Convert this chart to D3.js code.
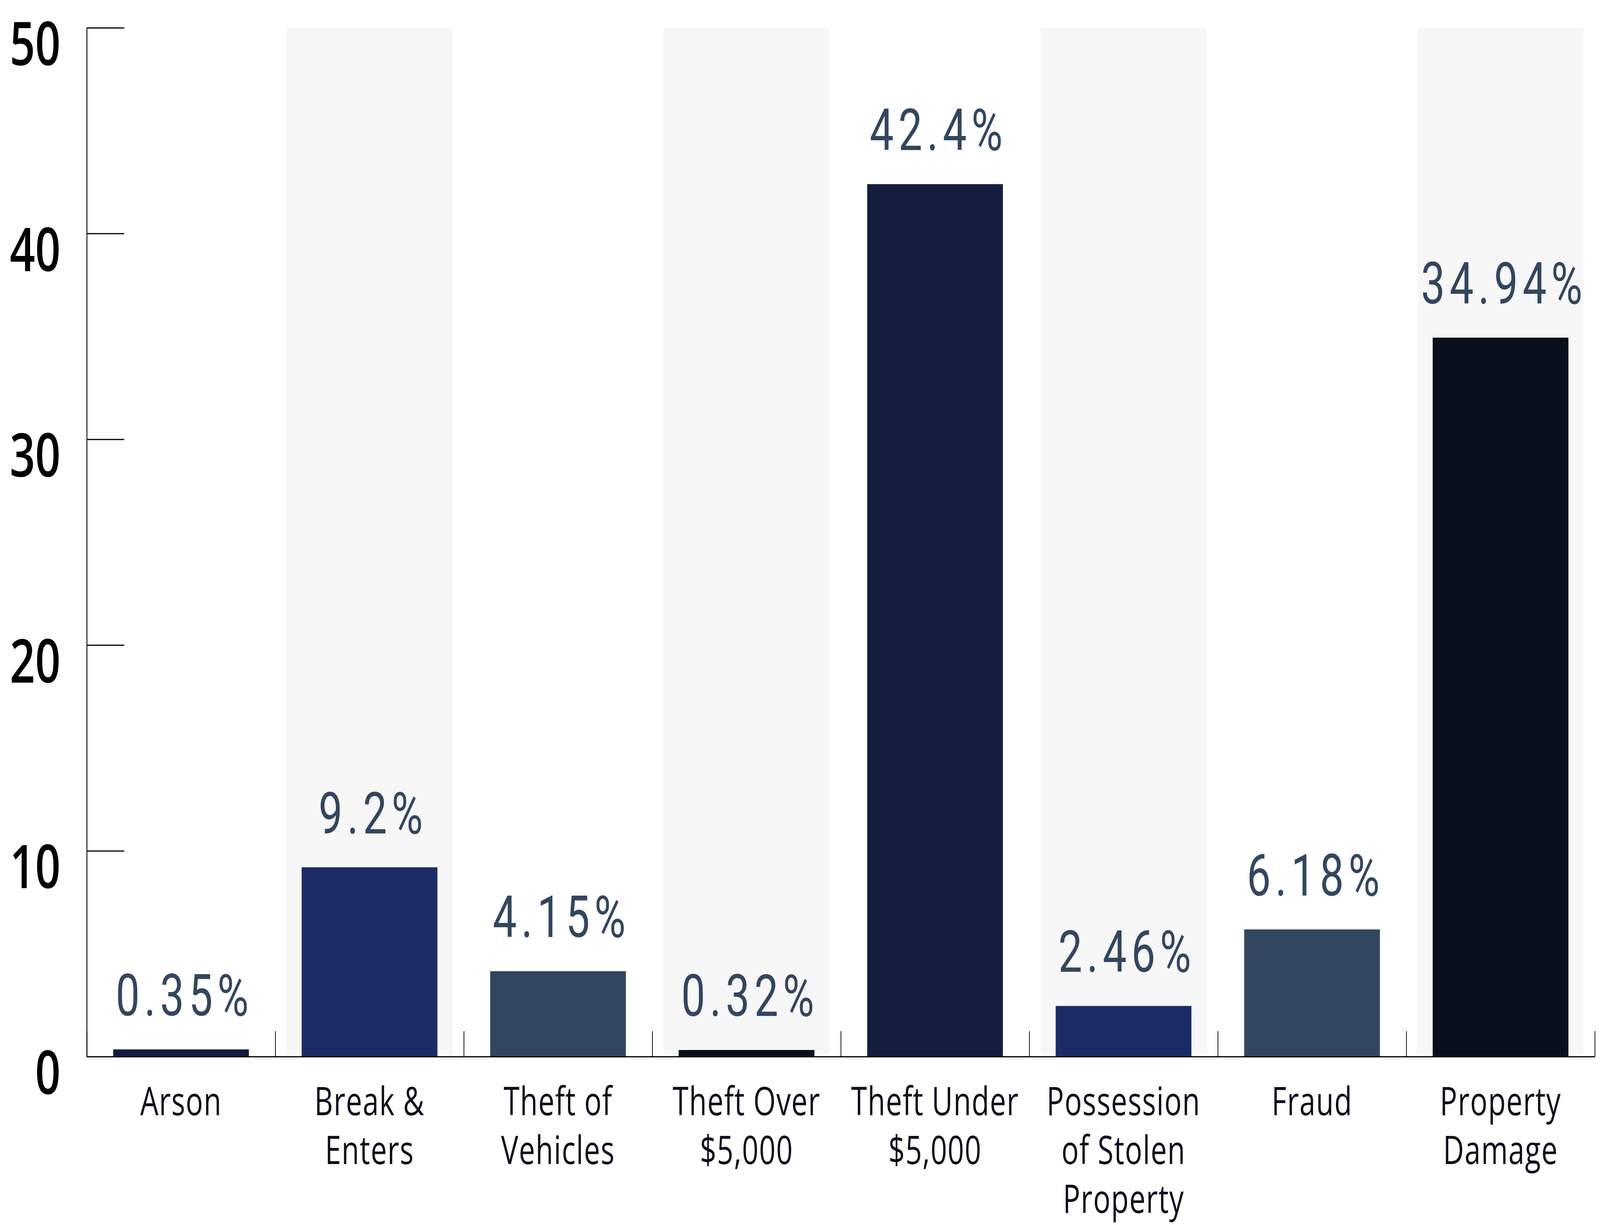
<!DOCTYPE html>
<html>
<head>
<meta charset="utf-8">
<script src="https://cdn.jsdelivr.net/npm/d3@7"></script>
<style>
  html, body { margin: 0; padding: 0; background: #ffffff; overflow: hidden; }
  svg { display: block; }
</style>
</head>
<body>
<svg id="chart" viewBox="0 0 5550 3135" preserveAspectRatio="none"></svg>
<script>
// ---- data ----
const categories = ["Arson", "Break & Enters", "Theft of Vehicles", "Theft Over $5,000",
  "Theft Under $5,000", "Possession of Stolen Property", "Fraud", "Property Damage"];
const categoryLines = [["Arson"], ["Break &", "Enters"], ["Theft of", "Vehicles"], ["Theft Over", "$5,000"],
  ["Theft Under", "$5,000"], ["Possession", "of Stolen", "Property"], ["Fraud"], ["Property", "Damage"]];
const values = [0.35, 9.2, 4.15, 0.32, 42.4, 2.46, 6.18, 34.94];
const valueLabels = ["0.35%", "9.2%", "4.15%", "0.32%", "42.4%", "2.46%", "6.18%", "34.94%"];
const yTicks = [0, 10, 20, 30, 40, 50];
const barColors = ["#141d40", "#1a2b66", "#33465f", "#0a0f1c"];

// ---- layout (in 5550 x 3135 units, stretched to the window) ----
const plotLeft = 301, plotRight = 5532, plotTop = 71, plotBottom = 2704;

const svg = d3.select("#chart")
  .attr("width", window.innerWidth || 5550)
  .attr("height", window.innerHeight || 3135);

const x = d3.scaleBand().domain(categories).range([plotLeft, plotRight]).paddingInner(0).paddingOuter(0);
const xEdges = d3.scaleLinear().domain([0, categories.length]).range([plotLeft, plotRight]);
const y = d3.scaleLinear().domain([0, 50]).range([plotBottom, plotTop]);

const bw = x.bandwidth();
const shadeInset = bw * 0.06;
const barInset = bw * 0.14;

// alternating shaded bands
svg.append("g").selectAll("rect")
  .data(categories.filter((d, i) => i % 2 === 1))
  .join("rect")
  .attr("x", d => x(d) + shadeInset)
  .attr("width", bw - 2 * shadeInset)
  .attr("y", y(50))
  .attr("height", y(0) - y(50) - 7)
  .attr("fill", "#f7f7f7");

// bars
svg.append("g").selectAll("rect")
  .data(values)
  .join("rect")
  .attr("x", (d, i) => x(categories[i]) + barInset)
  .attr("width", bw - 2 * barInset)
  .attr("y", d => y(d))
  .attr("height", d => y(0) - y(d))
  .attr("fill", (d, i) => barColors[i % barColors.length]);

// value labels
svg.append("g").selectAll("text")
  .data(values)
  .join("text")
  .attr("x", (d, i) => x(categories[i]) + bw / 2)
  .attr("dx", 12)
  .attr("y", d => y(d) - 87)
  .attr("text-anchor", "middle")
  .attr("font-family", "Roboto, 'Noto Sans', sans-serif")
  .attr("font-size", 148)
  .attr("letter-spacing", 16)
  .attr("fill", "#33465f")
  .text((d, i) => valueLabels[i]);

// y axis
const yAxis = d3.axisLeft(y)
  .tickValues(yTicks)
  .tickSizeInner(-130)
  .tickSizeOuter(0)
  .tickPadding(91)
  .tickFormat(d3.format("d"));

const gy = svg.append("g")
  .attr("transform", `translate(${plotLeft},0)`)
  .call(yAxis);
gy.select(".domain").attr("stroke", "#000").attr("stroke-width", 3);
gy.selectAll(".tick line").attr("stroke", "#000").attr("stroke-width", 3);
gy.selectAll(".tick text")
  .attr("dy", "0.62em")
  .attr("font-family", "'Open Sans', sans-serif")
  .attr("font-weight", 600)
  .attr("font-size", 154)
  .attr("fill", "#000");

// x axis (ticks at band edges)
const xAxis = d3.axisBottom(xEdges)
  .tickValues(d3.range(categories.length + 1))
  .tickSizeInner(-65)
  .tickSizeOuter(0)
  .tickFormat("");
const gx = svg.append("g")
  .attr("transform", `translate(0,${plotBottom})`)
  .call(xAxis);
gx.select(".domain").attr("stroke", "#000").attr("stroke-width", 3);
gx.selectAll(".tick line").attr("stroke", "#000").attr("stroke-width", 2.5);

// category labels
const cat = svg.append("g").selectAll("text")
  .data(categories)
  .join("text")
  .attr("x", d => x(d) + bw / 2)
  .attr("y", plotBottom + 150)
  .attr("text-anchor", "middle")
  .attr("font-family", "'Open Sans', sans-serif")
  .attr("font-size", 100)
  .attr("letter-spacing", 2)
  .attr("fill", "#0a0f1c");
cat.each(function(d, i) {
  const t = d3.select(this);
  categoryLines[i].forEach((line, j) => {
    t.append("tspan")
      .attr("x", x(d) + bw / 2)
      .attr("dy", j === 0 ? 0 : 125)
      .text(line);
  });
});
</script>
</body>
</html>
